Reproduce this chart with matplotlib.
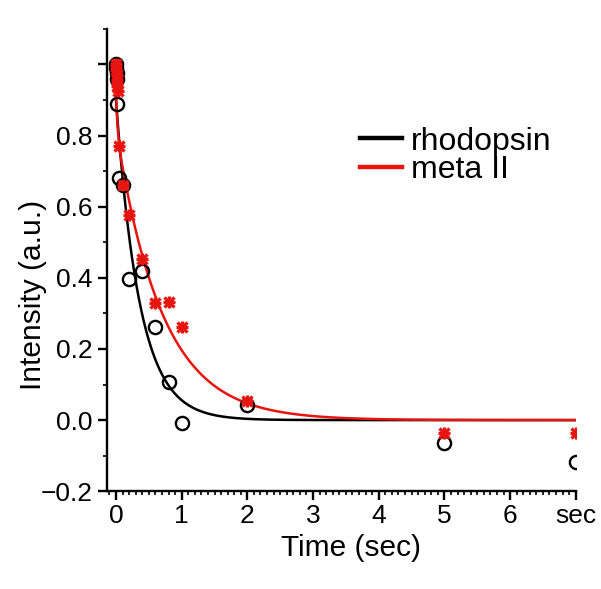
import numpy as np
import matplotlib
matplotlib.use("Agg")
import matplotlib.pyplot as plt
from matplotlib.ticker import MultipleLocator, FixedLocator

plt.rcParams['font.family'] = ['Liberation Sans', 'DejaVu Sans']

# measured points, time in sec
rho_t = [0, 0.005, 0.01, 0.015, 0.02, 0.05, 0.1, 0.2, 0.4, 0.6, 0.8, 1.0, 2.0, 5.0, 7.0]
rho_v = [1.0, 0.99, 0.975, 0.96, 0.89, 0.68, 0.66, 0.397, 0.42, 0.263, 0.106, -0.008, 0.042, -0.065, -0.117]

meta_t = [0, 0.005, 0.01, 0.015, 0.02, 0.025, 0.05, 0.1, 0.2, 0.4, 0.6, 0.8, 1.0, 2.0, 5.0, 7.0]
meta_v = [1.0, 0.985, 0.97, 0.955, 0.94, 0.925, 0.772, 0.66, 0.577, 0.452, 0.33, 0.333, 0.263, 0.054, -0.037, -0.036]

# exponential fits: (amplitude, tau) per component
rho_fit = [(0.90, 0.36)]
meta_fit = [(0.82, 0.70), (0.11, 0.02)]

xticks = [0, 1, 2, 3, 4, 5, 6, 7]
xticklabels = ['0', '1', '2', '3', '4', '5', '6', 'sec']
yticks = [-0.2, 0.0, 0.2, 0.4, 0.6, 0.8, 1.0]
yticklabels = ['\u22120.2', '0.0', '0.2', '0.4', '0.6', '0.8', '']

RED = '#e8140f'


def fit_curve(t, comps):
    return sum(a*np.exp(-t/tau) for a, tau in comps)


fig = plt.figure(figsize=(6.01, 5.89), dpi=100)
ax = fig.add_axes([0.178, 0.166, 0.780, 0.785])

tt = np.linspace(0, 7, 800)
ax.plot(tt, fit_curve(tt, rho_fit), color='black', lw=1.8, label='rhodopsin', zorder=2)
ax.plot(tt, fit_curve(tt, meta_fit), color=RED, lw=1.8, label='meta II', zorder=3)

ax.plot(rho_t, rho_v, 'o', mfc='none', mec='black', mew=1.7, ms=9.5, zorder=4)
ax.plot(meta_t, meta_v, ls='none', marker='x', mec=RED, mew=2.4, ms=7.5, zorder=5)
ax.plot(meta_t, meta_v, ls='none', marker='+', mec=RED, mew=2.4, ms=9, zorder=5)

ax.set_xlim(-0.137, 7.0)
ax.set_ylim(-0.2, 1.1)
ax.xaxis.set_major_locator(FixedLocator(xticks))
ax.set_xticklabels(xticklabels)
ax.xaxis.set_minor_locator(MultipleLocator(0.1))
ax.yaxis.set_major_locator(FixedLocator(yticks))
ax.set_yticklabels(yticklabels)
ax.yaxis.set_minor_locator(MultipleLocator(0.1))

for s in ['top', 'right']:
    ax.spines[s].set_visible(False)
for s in ['left', 'bottom']:
    ax.spines[s].set_linewidth(1.7)

ax.tick_params(which='major', length=6.5, width=1.7, labelsize=19)
ax.tick_params(which='minor', length=3.2, width=1.2)
ax.tick_params(axis='y', which='major', pad=4)
ax.tick_params(axis='x', which='major', pad=3)

ax.set_xlabel('Time (sec)', fontsize=21.5)
ax.set_ylabel('Intensity (a.u.)', fontsize=21.5)
ax.xaxis.set_label_coords(0.52, -0.092)
ax.yaxis.set_label_coords(-0.128, 0.425)

leg = ax.legend(loc='upper left', bbox_to_anchor=(0.599, 0.785), bbox_transform=fig.transFigure,
                frameon=False, fontsize=23, borderpad=0, borderaxespad=0,
                handlelength=1.3, handletextpad=0.3, labelspacing=-0.05)
for ln in leg.get_lines():
    ln.set_linewidth(3.2)

fig.savefig('out.png', dpi=100)
